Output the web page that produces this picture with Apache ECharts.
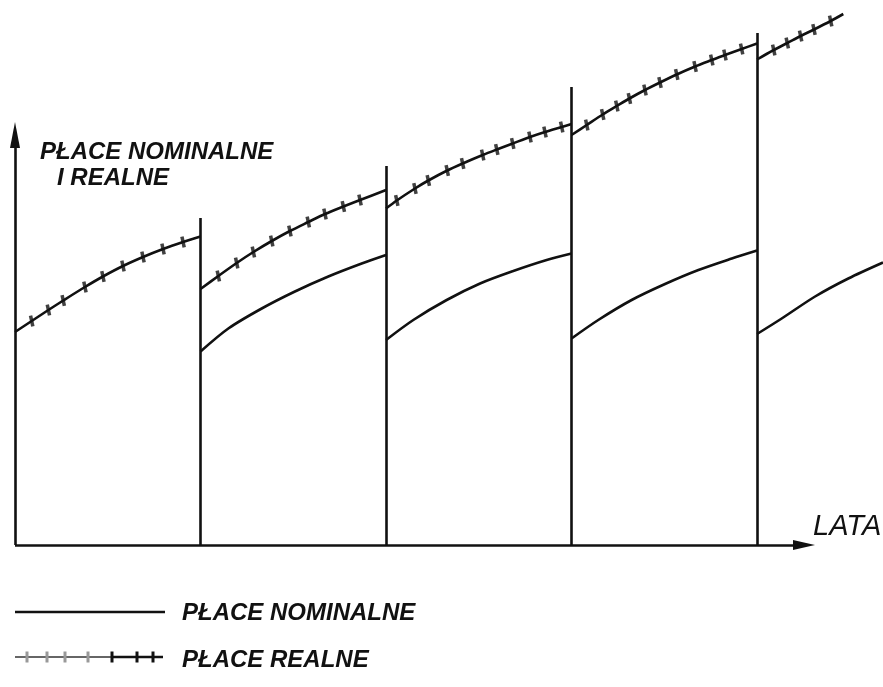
<!DOCTYPE html>
<html>
<head>
<meta charset="utf-8">
<script src="https://cdn.jsdelivr.net/npm/echarts@6/dist/echarts.min.js"></script>
<style>
html,body{margin:0;padding:0;background:#fff;}
#chart{width:883px;height:687px;}
</style>
</head>
<body>
<div id="chart"></div>
<script>
// ---- data (x: years, y: wage level, arbitrary units) ----
const yearBoundaries = [1, 2, 3, 4];
const dividerTops = [65.4, 75.8, 91.6, 102.4];

const realSeg1 = [[0,42.6],[0.09,44.8],[0.18,47.0],[0.26,48.9],[0.377,51.6],[0.474,53.7],[0.582,55.8],[0.69,57.6],[0.798,59.2],[0.906,60.6],[1.0,61.7]];
const realSeg2 = [[1.0,51.2],[1.096,53.8],[1.195,56.4],[1.285,58.6],[1.384,60.8],[1.482,62.8],[1.581,64.6],[1.671,66.2],[1.77,67.7],[1.86,69.0],[2.0,71]];
const realSeg3 = [[2.0,67.3],[2.058,68.9],[2.156,71.3],[2.228,72.9],[2.33,74.9],[2.413,76.3],[2.521,78.0],[2.597,79.1],[2.683,80.3],[2.776,81.6],[2.857,82.6],[2.947,83.6],[3.0,84.2]];
const realSeg4 = [[3.0,82],[3.082,84.0],[3.168,86.1],[3.244,87.8],[3.312,89.3],[3.396,91.0],[3.477,92.5],[3.567,94.1],[3.666,95.7],[3.756,97.0],[3.827,98.0],[3.917,99.2],[4.0,100.3]];
const realSeg5 = [[4.0,97.1],[4.09,99.0],[4.163,100.4],[4.235,101.8],[4.307,103.1],[4.397,104.8],[4.465,106.2]];

const nomSeg2 = [[1.0,38.7],[1.15,43.3],[1.33,47.3],[1.509,50.7],[1.689,53.7],[1.869,56.3],[2.0,58]];
const nomSeg3 = [[2.0,41],[2.147,45],[2.327,49],[2.507,52.3],[2.686,54.8],[2.866,57],[3.0,58.3]];
const nomSeg4 = [[3.0,41.3],[3.144,45],[3.324,49],[3.504,52.2],[3.684,55.0],[3.864,57.3],[4.0,58.9]];
const nomSeg5 = [[4.0,42.2],[4.133,45.3],[4.313,49.7],[4.492,53.3],[4.679,56.5]];

const yAxisTitle = ['PŁACE NOMINALNE', 'I REALNE'];
const xAxisTitle = 'LATA';
const legendNames = ['PŁACE NOMINALNE', 'PŁACE REALNE'];
const xArrowEnd = 4.253;
const yArrowEnd = 82;

// ---- build ----
const FONT = '"Liberation Sans", "DejaVu Sans", sans-serif';
const INK = '#111';
const chart = echarts.init(document.getElementById('chart'), null, {renderer: 'canvas'});

function curve(data, name) {
  return {
    type: 'line', name: name, data: data, smooth: 0.3, showSymbol: false,
    lineStyle: {color: INK, width: 2.6}, silent: true, z: 3
  };
}
function ticks(data) {
  return {
    type: 'scatter', data: data.slice(1, -1), symbol: 'rect', symbolSize: [3.5, 11],
    symbolRotate: 12, itemStyle: {color: INK}, silent: true, z: 4
  };
}

const realSegs = [realSeg1, realSeg2, realSeg3, realSeg4, realSeg5];
const nomSegs = [nomSeg2, nomSeg3, nomSeg4, nomSeg5];

const series = [];
realSegs.forEach(s => { series.push(curve(s, legendNames[1])); series.push(ticks(s)); });
nomSegs.forEach(s => series.push(curve(s, legendNames[0])));

const mlData = yearBoundaries.map((x, i) => [
  {coord: [x, 0], symbol: 'none'},
  {coord: [x, dividerTops[i]], symbol: 'none'}
]);
mlData.push([{coord: [0, 0], symbol: 'none'}, {coord: [xArrowEnd, 0], symbol: 'triangle', symbolSize: [10, 22]}]);
mlData.push([{coord: [0, 0], symbol: 'none'}, {coord: [0, yArrowEnd], symbol: 'triangle', symbolSize: [10, 26]}]);

series.push({
  type: 'line', data: [], silent: true, z: 2,
  markLine: {
    silent: true, animation: false, symbol: ['none', 'none'],
    label: {show: false},
    lineStyle: {color: INK, width: 2.6, type: 'solid'},
    emphasis: {disabled: true},
    data: mlData
  }
});

function legendTicks(xs, y, color) {
  return xs.map(x => ({type: 'rect', shape: {x: x - 1.5, y: y - 5.5, width: 3, height: 11}, style: {fill: color}}));
}

const graphic = [
  {type: 'text', left: 40, top: 140, style: {text: yAxisTitle[0], font: 'italic bold 24px ' + FONT, fill: INK}},
  {type: 'text', left: 57, top: 166, style: {text: yAxisTitle[1], font: 'italic bold 24px ' + FONT, fill: INK}},
  {type: 'text', left: 813, top: 512, style: {text: xAxisTitle, font: 'italic 29px ' + FONT, fill: INK}},
  {type: 'line', shape: {x1: 15, y1: 612, x2: 165, y2: 612}, style: {stroke: INK, lineWidth: 2.4}},
  {type: 'text', left: 182, top: 601, style: {text: legendNames[0], font: 'italic bold 24px ' + FONT, fill: INK}},
  {type: 'line', shape: {x1: 15, y1: 657, x2: 112, y2: 657}, style: {stroke: '#666', lineWidth: 2}},
  {type: 'line', shape: {x1: 112, y1: 657, x2: 163, y2: 657}, style: {stroke: INK, lineWidth: 2.4}},
  {type: 'text', left: 182, top: 648, style: {text: legendNames[1], font: 'italic bold 24px ' + FONT, fill: INK}}
].concat(legendTicks([27, 47, 65, 88], 657, '#999')).concat(legendTicks([112, 137, 153], 657, INK));

chart.setOption({
  animation: false,
  backgroundColor: '#fff',
  grid: {left: 15, top: 0, right: 0, bottom: 142, containLabel: false},
  xAxis: {type: 'value', min: 0, max: 4.679, show: false},
  yAxis: {type: 'value', min: 0, max: 109, show: false},
  series: series,
  graphic: graphic
});
</script>
</body>
</html>
